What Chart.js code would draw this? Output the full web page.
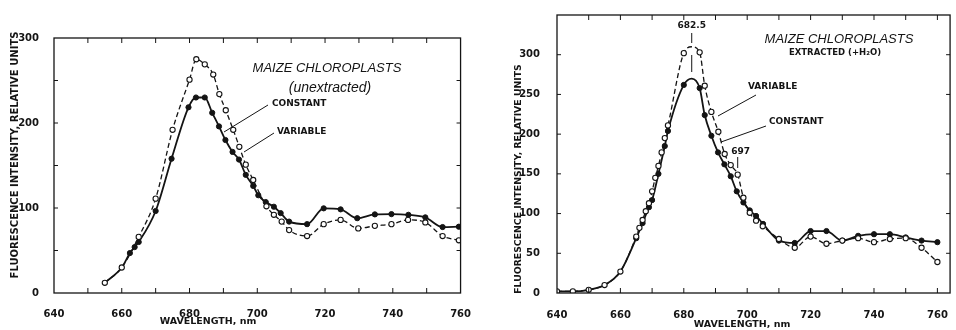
<!DOCTYPE html>
<html lang="en">
<head>
<meta charset="UTF-8" />
<title>Maize chloroplasts fluorescence</title>
<style>
  body { margin: 0; background: #fff; }
  .panel { position: absolute; top: 0; width: 478px; height: 330px; }
</style>
</head>
<body>
<div class="panel" style="left:0"><canvas id="leftChart" width="478" height="330"></canvas></div>
<div class="panel" style="left:478px"><canvas id="rightChart" width="478" height="330"></canvas></div>

<script src="https://cdn.jsdelivr.net/npm/chart.js"></script>
<script>
// ---- left panel: unextracted ----
const leftVarWl   = [655, 660, 665, 670, 675, 680, 682, 684.5, 687, 688.8, 690.7, 692.9, 694.7, 696.6, 698.8, 702.7, 704.9, 707.2, 709.4, 714.7, 719.6, 724.6, 729.8, 734.7, 739.6, 744.5, 749.6, 754.7, 759.5];
const leftVariable= [12, 30, 66, 111, 192, 251, 275, 269, 257, 234, 215, 192, 172, 151, 133, 102, 92, 84, 74, 67, 81, 86, 76, 79, 81, 86, 83, 67, 62];
const leftConstWl = [655, 660, 662.4, 663.8, 665, 670, 674.7, 679.7, 681.9, 684.5, 686.7, 688.7, 690.6, 692.7, 694.6, 696.6, 698.8, 700.3, 702.5, 704.9, 706.9, 709.4, 714.7, 719.6, 724.6, 729.5, 734.7, 739.6, 744.6, 749.6, 754.7, 759.5];
const leftConstant= [12, 30, 47, 54, 60, 96.5, 158, 218.5, 230, 230, 212, 196, 180, 166, 157, 139, 126, 115, 107, 101.5, 94, 84, 81, 99.6, 98.4, 88, 92.5, 92.8, 92, 89, 77.6, 78];

// ---- right panel: extracted (+H2O) ----
const rightVarWl   = [640, 645, 650, 655, 660, 665, 666, 667, 668, 669, 670, 671, 672, 673, 674, 675, 680, 682.5, 685, 686.6, 688.7, 690.9, 692.9, 694.8, 697, 698.8, 700.8, 702.8, 704.9, 710, 715, 720, 725, 730, 735, 740, 745, 750, 755, 760];
const rightVariable= [2, 2, 4, 10, 27, 71, 82, 92, 103, 113, 128, 145, 160, 177, 195, 211, 302, 310, 303, 261, 228, 203, 175, 161, 149, 120, 101, 91, 84, 68, 57, 71, 62, 66, 69, 64, 68, 69, 57, 39];
const rightConstWl = [640, 645, 650, 655, 660, 665, 667, 669, 670, 672, 674, 675, 680, 682.5, 685, 686.6, 688.7, 690.8, 692.8, 694.8, 696.7, 698.8, 700.8, 702.8, 705, 710, 715, 720, 725, 730, 735, 740, 745, 750, 755, 760];
const rightConstant= [2, 2, 4, 10, 27, 69, 88, 108, 117, 150, 185, 204, 262, 270, 258, 224, 198, 177, 162, 147, 128, 114, 104, 97, 87, 66, 63, 78, 78, 66, 72, 74, 74, 70, 66, 64];

const xTicks = [640, 660, 680, 700, 720, 740, 760];
const leftYTicks = [0, 100, 200, 300];
const rightYTicks = [0, 50, 100, 150, 200, 250, 300];
// points on a curve that carry no marker of their own (shared start, curve apex)
const leftBare = [655, 660];
const rightBare = [640, 645, 650, 655, 660, 682.5];
const rightVarBare = [682.5];

const ink = '#141414';
const labelFont = 'bold 9px "DejaVu Sans"';
const titleFont = 'italic 13px "Liberation Sans"';

function pts(xs, ys) { return xs.map((x, i) => ({x: x, y: ys[i]})); }

function line(ctx, x1, y1, x2, y2) {
  ctx.beginPath(); ctx.moveTo(x1, y1); ctx.lineTo(x2, y2); ctx.stroke();
}

function text(ctx, s, x, y, font, align, rot) {
  ctx.save();
  ctx.font = font; ctx.textAlign = align || 'center'; ctx.textBaseline = 'middle';
  ctx.translate(x, y);
  if (rot) ctx.rotate(rot);
  ctx.fillText(s, 0, 0);
  ctx.restore();
}

const framePlugin = {
  id: 'frame',
  afterDraw(chart, args, opts) {
    const {ctx, chartArea: a, scales: {x, y}} = chart;
    ctx.save();
    ctx.strokeStyle = ink; ctx.fillStyle = ink;
    ctx.lineWidth = 1.3;
    ctx.strokeRect(a.left, a.top, a.right - a.left, a.bottom - a.top);
    ctx.lineWidth = 1;
    for (let v = 650; v < x.max; v += 10) {
      const px = x.getPixelForValue(v);
      line(ctx, px, a.bottom, px, a.bottom - 5);
      line(ctx, px, a.top, px, a.top + 5);
    }
    for (let v = 50; v < y.max; v += 50) {
      const py = y.getPixelForValue(v);
      line(ctx, a.left, py, a.left + 4, py);
      line(ctx, a.right, py, a.right - 4, py);
    }
    opts.draw(ctx, chart);
    ctx.restore();
  }
};

function makeChart(id, cfg) {
  const markerR = 2.6;
  const bareVar = cfg.varBare || [];
  return new Chart(document.getElementById(id), {
    type: 'scatter',
    data: {
      datasets: [
        {
          label: 'VARIABLE',
          data: pts(cfg.varWl, cfg.variable),
          showLine: true,
          borderColor: ink, borderWidth: 1.3, borderDash: [5, 3],
          cubicInterpolationMode: 'monotone',
          pointRadius: c => bareVar.includes(cfg.varWl[c.dataIndex]) ? 0 : markerR,
          pointBackgroundColor: '#fff', pointBorderColor: ink, pointBorderWidth: 1.1
        },
        {
          label: 'CONSTANT',
          data: pts(cfg.constWl, cfg.constant),
          showLine: true,
          borderColor: ink, borderWidth: 1.8,
          cubicInterpolationMode: 'monotone',
          pointRadius: c => cfg.bare.includes(cfg.constWl[c.dataIndex]) ? 0 : markerR,
          pointBackgroundColor: ink, pointBorderColor: ink, pointBorderWidth: 1
        }
      ]
    },
    options: {
      responsive: false, animation: false, devicePixelRatio: 1,
      layout: { padding: cfg.padding },
      plugins: { legend: { display: false }, tooltip: { enabled: false }, frame: { draw: cfg.draw } },
      scales: {
        x: {
          type: 'linear', min: 640, max: cfg.xMax,
          afterBuildTicks: s => { s.ticks = xTicks.map(v => ({value: v})); },
          afterFit: s => { s.height = 37; },
          grid: { display: false }, border: { display: false },
          ticks: { color: ink, font: { family: 'DejaVu Sans', weight: 'bold', size: 10 }, padding: cfg.xPad, maxRotation: 0 }
        },
        y: {
          type: 'linear', min: 0, max: cfg.yMax,
          afterBuildTicks: s => { s.ticks = cfg.yTicks.map(v => ({value: v})); },
          afterFit: s => { s.width = cfg.yWidth; },
          grid: { display: false }, border: { display: false },
          ticks: { color: ink, font: { family: 'DejaVu Sans', weight: 'bold', size: 10 }, padding: cfg.yPad }
        }
      }
    },
    plugins: [framePlugin]
  });
}

makeChart('leftChart', {
  varWl: leftVarWl, variable: leftVariable, constWl: leftConstWl, constant: leftConstant,
  bare: leftBare, xMax: 760, yMax: 300, yTicks: leftYTicks, yWidth: 54, xPad: 7, yPad: 7,
  padding: { left: 0, top: 38, right: 17, bottom: 0 },
  draw(ctx) {
    text(ctx, 'FLUORESCENCE INTENSITY, RELATIVE UNITS', 15, 155, 'bold 10px "DejaVu Sans"', 'center', -Math.PI / 2);
    text(ctx, 'WAVELENGTH, nm', 208, 322, 'bold 9.5px "DejaVu Sans"');
    text(ctx, 'MAIZE CHLOROPLASTS', 327, 68, titleFont);
    text(ctx, '(unextracted)', 330, 88, 'italic 14px "Liberation Sans"');
    text(ctx, 'CONSTANT', 272, 104, labelFont, 'left');
    text(ctx, 'VARIABLE', 277, 132, labelFont, 'left');
    line(ctx, 268, 105, 224, 132);
    line(ctx, 274, 133, 244, 152);
  }
});

makeChart('rightChart', {
  varWl: rightVarWl, variable: rightVariable, constWl: rightConstWl, constant: rightConstant,
  bare: rightBare, varBare: rightVarBare, xMax: 764, yMax: 350, yTicks: rightYTicks, yWidth: 79, xPad: 8, yPad: 9,
  padding: { left: 0, top: 11, right: 1, bottom: 0 },
  draw(ctx, chart) {
    const x = chart.scales.x;
    text(ctx, 'FLUORESCENCE INTENSITY, RELATIVE UNITS', 41, 179, 'bold 9.3px "DejaVu Sans"', 'center', -Math.PI / 2);
    text(ctx, 'WAVELENGTH, nm', 264, 325, 'bold 9.5px "DejaVu Sans"');
    text(ctx, 'MAIZE CHLOROPLASTS', 361, 39, titleFont);
    text(ctx, 'EXTRACTED (+H\u2082O)', 357, 53, 'bold 8.5px "DejaVu Sans"');
    text(ctx, '682.5', x.getPixelForValue(682.5), 26, labelFont);
    const pk = x.getPixelForValue(682.5);
    line(ctx, pk, 33, pk, 43);
    line(ctx, pk, 55, pk, 72);
    text(ctx, 'VARIABLE', 270, 87, labelFont, 'left');
    text(ctx, 'CONSTANT', 291, 122, labelFont, 'left');
    line(ctx, 278, 95, 240, 116);
    line(ctx, 288, 126, 243, 142);
    const p697 = x.getPixelForValue(697);
    text(ctx, '697', p697 + 3, 152, labelFont);
    line(ctx, p697, 157, p697, 168);
  }
});
</script>
</body>
</html>
